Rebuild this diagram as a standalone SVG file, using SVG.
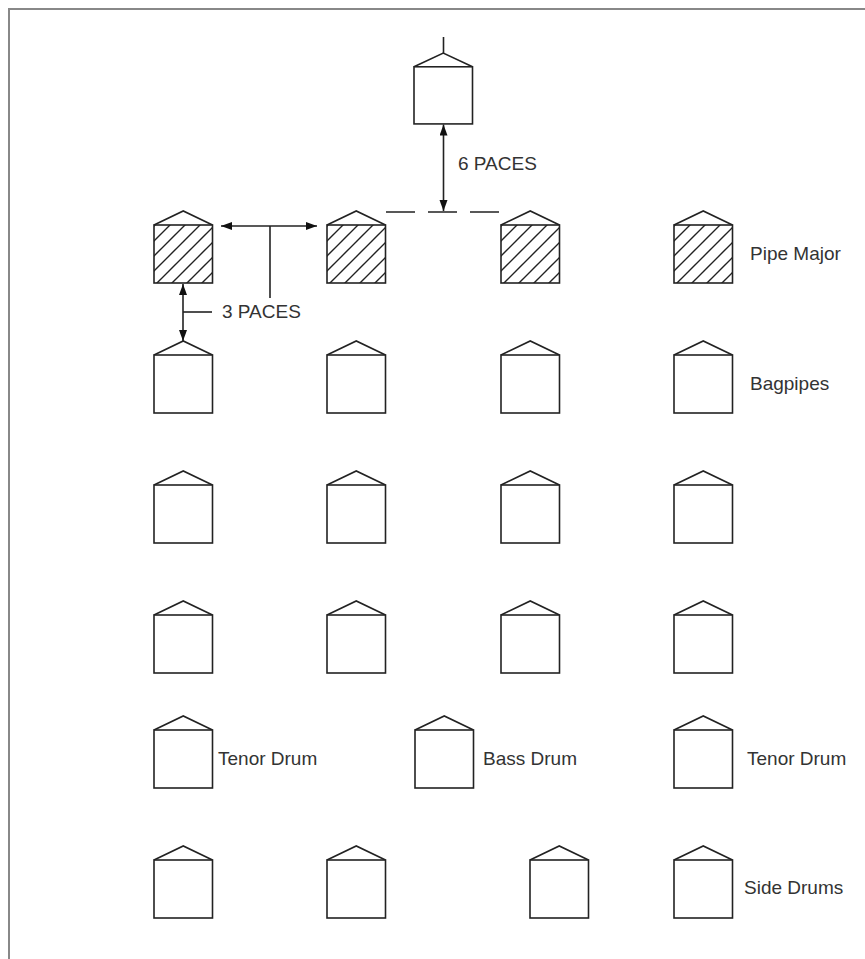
<svg xmlns="http://www.w3.org/2000/svg" xmlns:xlink="http://www.w3.org/1999/xlink" width="865" height="959" viewBox="0 0 865 959">
<style>
.ln{fill:none;stroke:#222;stroke-width:1.6;stroke-linejoin:miter}
.bx{fill:#fff;stroke:#222;stroke-width:1.6}
.hb{fill:url(#hatch);stroke:#222;stroke-width:1.6}
.t{font-family:"Liberation Sans",Arial,sans-serif;font-size:19px;fill:#333}
.cn{fill:none;stroke:#222;stroke-width:1.6}
</style>
<defs>
<pattern id="hatch" patternUnits="userSpaceOnUse" width="15" height="15">
<rect width="15" height="15" fill="#fff"/>
<path d="M-2,17 L17,-2 M-2,2 L2,-2 M13,17 L17,13" stroke="#222" stroke-width="1.4"/>
</pattern>
<marker id="ah" markerUnits="userSpaceOnUse" markerWidth="12" markerHeight="9" refX="11" refY="4" orient="auto-start-reverse">
<path d="M0,0 L11,4 L0,8 z" fill="#111"/>
</marker>
<g id="hut"><path class="ln" d="M0,14 L29.25,0 L58.5,14"/><rect class="bx" x="0" y="14" width="58.5" height="58"/></g>
<g id="huth"><path class="ln" d="M0,14 L29.25,0 L58.5,14"/><rect class="hb" x="0" y="14" width="58.5" height="58"/></g>
</defs>
<rect x="9" y="9" width="880" height="980" fill="none" stroke="#888" stroke-width="2"/>
<g id="drum-major">
<line class="ln" x1="443.5" y1="37" x2="443.5" y2="53"/>
<use xlink:href="#hut" href="#hut" transform="translate(414,53) scale(1,0.985)"/>
</g>
<g id="pipe-major-row">
<g id="pm1"><use xlink:href="#huth" href="#huth" transform="translate(154,211)"/></g>
<g id="pm2"><use xlink:href="#huth" href="#huth" transform="translate(327,211)"/></g>
<g id="pm3"><use xlink:href="#huth" href="#huth" transform="translate(501,211)"/></g>
<g id="pm4"><use xlink:href="#huth" href="#huth" transform="translate(674,211)"/></g>
</g>
<g id="bagpipes-row1">
<g id="bp1"><use xlink:href="#hut" href="#hut" transform="translate(154,341)"/></g>
<g id="bp2"><use xlink:href="#hut" href="#hut" transform="translate(327,341)"/></g>
<g id="bp3"><use xlink:href="#hut" href="#hut" transform="translate(501,341)"/></g>
<g id="bp4"><use xlink:href="#hut" href="#hut" transform="translate(674,341)"/></g>
</g>
<g id="bagpipes-row2">
<g id="bp5"><use xlink:href="#hut" href="#hut" transform="translate(154,471)"/></g>
<g id="bp6"><use xlink:href="#hut" href="#hut" transform="translate(327,471)"/></g>
<g id="bp7"><use xlink:href="#hut" href="#hut" transform="translate(501,471)"/></g>
<g id="bp8"><use xlink:href="#hut" href="#hut" transform="translate(674,471)"/></g>
</g>
<g id="bagpipes-row3">
<g id="bp9"><use xlink:href="#hut" href="#hut" transform="translate(154,601)"/></g>
<g id="bp10"><use xlink:href="#hut" href="#hut" transform="translate(327,601)"/></g>
<g id="bp11"><use xlink:href="#hut" href="#hut" transform="translate(501,601)"/></g>
<g id="bp12"><use xlink:href="#hut" href="#hut" transform="translate(674,601)"/></g>
</g>
<g id="drums-row">
<g id="tenor1"><use xlink:href="#hut" href="#hut" transform="translate(154,716)"/></g>
<g id="bass"><use xlink:href="#hut" href="#hut" transform="translate(415,716)"/></g>
<g id="tenor2"><use xlink:href="#hut" href="#hut" transform="translate(674,716)"/></g>
</g>
<g id="side-drums-row">
<g id="sd1"><use xlink:href="#hut" href="#hut" transform="translate(154,846)"/></g>
<g id="sd2"><use xlink:href="#hut" href="#hut" transform="translate(327,846)"/></g>
<g id="sd3"><use xlink:href="#hut" href="#hut" transform="translate(530,846)"/></g>
<g id="sd4"><use xlink:href="#hut" href="#hut" transform="translate(674,846)"/></g>
</g>
<g id="connectors">
<line class="cn" x1="386" y1="212" x2="502" y2="212" stroke="#555" stroke-width="2" stroke-dasharray="29,13"/>
<line class="cn" x1="443.5" y1="124.5" x2="443.5" y2="211" marker-start="url(#ah)" marker-end="url(#ah)"/>
<line class="cn" x1="221" y1="226" x2="317" y2="226" marker-start="url(#ah)" marker-end="url(#ah)"/>
<line class="cn" x1="270" y1="226" x2="270" y2="298"/>
<line class="cn" x1="183" y1="284" x2="183" y2="341" marker-start="url(#ah)" marker-end="url(#ah)"/>
<line class="cn" x1="183" y1="312" x2="212" y2="312"/>
</g>
<g id="labels">
<text class="t" x="458" y="170">6 PACES</text>
<text class="t" x="222" y="318">3 PACES</text>
<text class="t" x="750" y="260">Pipe Major</text>
<text class="t" x="750" y="390">Bagpipes</text>
<text class="t" x="218" y="765">Tenor Drum</text>
<text class="t" x="483" y="765">Bass Drum</text>
<text class="t" x="747" y="765">Tenor Drum</text>
<text class="t" x="744" y="894">Side Drums</text>
</g>
</svg>
